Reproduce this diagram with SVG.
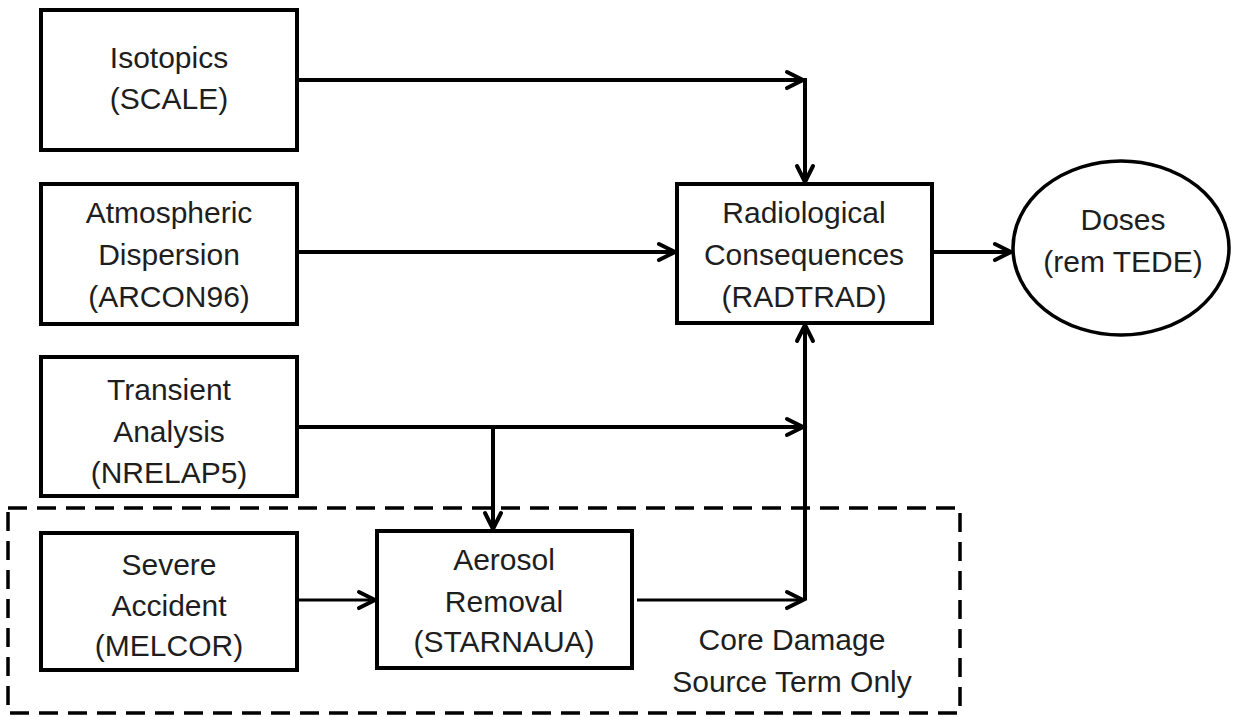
<svg xmlns="http://www.w3.org/2000/svg" width="1234" height="717" viewBox="0 0 1234 717">
<style>
.box{fill:#fff;stroke:#000;stroke-width:4}
.t{font-family:"Liberation Sans",Arial,sans-serif;font-size:30px;fill:#1e1e1e;text-anchor:middle}
.c{fill:none;stroke:#000;stroke-width:4}
.ct{fill:none;stroke:#000;stroke-width:3}
</style>
<defs>
<marker id="ah" markerUnits="userSpaceOnUse" viewBox="-20 -12 24 24" refX="0" refY="0" markerWidth="24" markerHeight="24" orient="auto" overflow="visible">
<path d="M-16,-8 L0,0 L-16,8" fill="none" stroke="#000" stroke-width="4" stroke-linecap="round" stroke-linejoin="miter"/>
</marker>
</defs>
<rect x="0" y="0" width="1234" height="717" fill="#fff"/>
<g id="region-core-damage">
<rect x="8" y="508" width="952" height="205" fill="none" stroke="#000" stroke-width="3.5" stroke-dasharray="19 10"/>
<text class="t" x="792" y="650">Core Damage</text>
<text class="t" x="792" y="692">Source Term Only</text>
</g>
<g id="connectors">
<path class="c" d="M297,80 H803" marker-end="url(#ah)"/>
<path class="c" d="M805,78 V182" marker-end="url(#ah)"/>
<path class="c" d="M297,252 H675" marker-end="url(#ah)"/>
<path class="c" d="M932,252 H1011" marker-end="url(#ah)"/>
<path class="c" d="M297,427 H803" marker-end="url(#ah)"/>
<path class="c" d="M493,427 V529" marker-end="url(#ah)"/>
<path class="ct" d="M297,600 H375" marker-end="url(#ah)"/>
<path class="ct" d="M637,600 H803" marker-end="url(#ah)"/>
<path class="c" d="M805,600 V325" marker-end="url(#ah)"/>
</g>
<g id="node-isotopics">
<rect class="box" x="41" y="10" width="256" height="140"/>
<text class="t" x="169" y="68">Isotopics</text>
<text class="t" x="169" y="109">(SCALE)</text>
</g>
<g id="node-atmospheric">
<rect class="box" x="41" y="184" width="256" height="140"/>
<text class="t" x="169" y="223">Atmospheric</text>
<text class="t" x="169" y="265">Dispersion</text>
<text class="t" x="169" y="307">(ARCON96)</text>
</g>
<g id="node-transient">
<rect class="box" x="41" y="357" width="256" height="139"/>
<text class="t" x="169" y="400">Transient</text>
<text class="t" x="169" y="442">Analysis</text>
<text class="t" x="169" y="483">(NRELAP5)</text>
</g>
<g id="node-severe">
<rect class="box" x="41" y="533" width="256" height="137"/>
<text class="t" x="169" y="575">Severe</text>
<text class="t" x="169" y="616">Accident</text>
<text class="t" x="169" y="656">(MELCOR)</text>
</g>
<g id="node-aerosol">
<rect class="box" x="377" y="531" width="255" height="137"/>
<text class="t" x="504" y="570">Aerosol</text>
<text class="t" x="504" y="612">Removal</text>
<text class="t" x="504" y="652">(STARNAUA)</text>
</g>
<g id="node-radiological">
<rect class="box" x="677" y="184" width="255" height="139"/>
<text class="t" x="804" y="223">Radiological</text>
<text class="t" x="804" y="265">Consequences</text>
<text class="t" x="804" y="307">(RADTRAD)</text>
</g>
<g id="node-doses">
<ellipse cx="1121" cy="248" rx="108" ry="87" fill="#fff" stroke="#000" stroke-width="3.5"/>
<text class="t" x="1123" y="230">Doses</text>
<text class="t" x="1123" y="272">(rem TEDE)</text>
</g>
</svg>
